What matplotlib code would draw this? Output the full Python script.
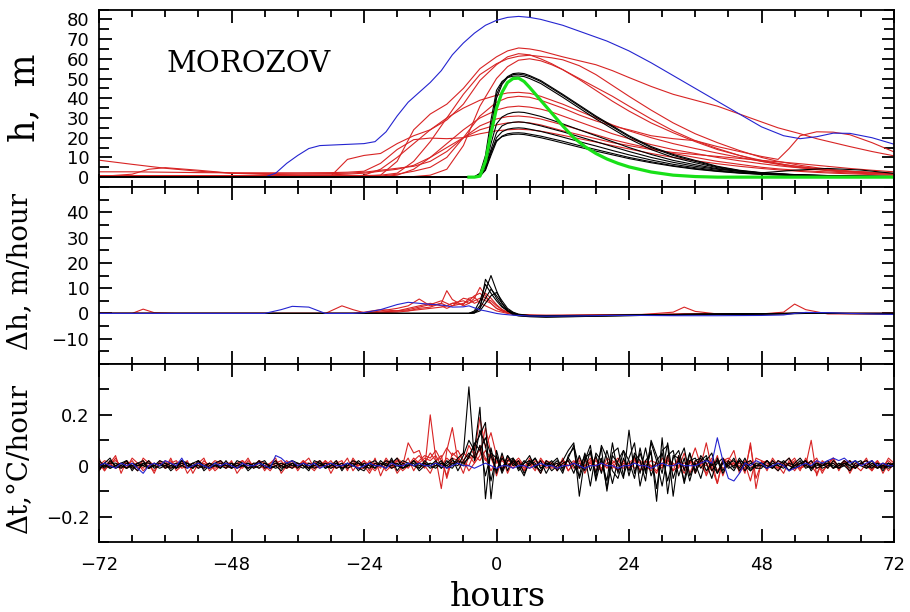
import numpy as np
import matplotlib
matplotlib.use("Agg")
import matplotlib.pyplot as plt
from matplotlib.ticker import MultipleLocator, FixedLocator, FuncFormatter

# ---------------- top panel: h, m ----------------
t_black = [-72, -6, -4, -3, -2, -1, 0, 1, 2, 3, 4, 5, 6, 8, 10, 12, 15, 18, 21, 24,
           28, 32, 36, 40, 44, 48, 54, 60, 66, 72]
h_black = [
    [0, 0, 0, 1, 8, 25, 42, 48, 51, 52.5, 52.8, 52.5, 51.5, 49, 45.5, 42, 36.5, 31, 26, 21,
     15.5, 11.5, 8.5, 5.5, 3.5, 2.3, 1.3, 0.8, 0.5, 0.3],
    [0, 0, 0, 0.5, 6, 22, 40, 47, 50.5, 52, 52.2, 51.8, 51, 48.5, 45, 41.5, 36, 30.5, 25.5, 20.5,
     15, 11, 8, 5.2, 3.3, 2.1, 1.2, 0.7, 0.4, 0.3],
    [0, 0, 0.2, 2, 11, 29, 44, 48.5, 50.5, 51.2, 51.3, 51, 50, 47.5, 44, 40.5, 35, 29.5, 24.5, 19.5,
     14, 10, 7.3, 4.8, 3, 2, 1.1, 0.7, 0.4, 0.3],
    [0, 0, 0, 1, 6, 17, 27, 30.5, 32, 32.8, 33, 32.8, 32.2, 30.8, 29, 27, 24, 21, 18, 15,
     11.5, 8.5, 6.3, 4.3, 3, 2, 1.2, 0.8, 0.5, 0.3],
    [0, 0, 0, 1, 5, 14, 22.5, 26, 27.3, 27.8, 28, 27.8, 27.3, 26, 24.5, 23, 20.5, 18, 15.5, 13,
     10, 7.5, 5.5, 4, 3, 2.2, 3.5, 4.4, 3.6, 1.9],
    [0, 0, 0, 0.5, 4, 12, 20, 23, 24.3, 24.8, 25, 24.8, 24.3, 23.2, 21.8, 20.3, 18, 15.8, 13.5, 11.3,
     8.7, 6.5, 4.8, 3.5, 2.5, 1.7, 1, 0.6, 0.4, 0.3],
    [0, 0, 0, 0.5, 3.5, 11, 18, 20.8, 22, 22.4, 22.5, 22.3, 21.8, 20.8, 19.5, 18.2, 16, 14, 12, 10,
     7.8, 5.8, 4.3, 3.1, 2.2, 1.5, 0.9, 0.6, 0.4, 0.2],
    [0, 0, 0.2, 1.5, 6, 13, 18.5, 20.5, 21.3, 21.7, 21.8, 21.6, 21.1, 20, 18.7, 17.3, 15.2, 13.2, 11.3, 9.4,
     7.3, 5.5, 4, 2.9, 2, 1.4, 0.8, 0.5, 0.3, 0.2],
]

t_red = [-72, -66, -63, -60, -54, -48, -42, -36, -30, -27, -24, -21, -18, -15, -12, -9, -6, -3,
         0, 2, 4, 6, 8, 10, 12, 15, 18, 21, 24, 28, 32, 36, 40, 44, 48, 51, 53, 55, 58, 61, 64, 68, 72]
h_red = [
    [0.5, 0.5, 0.5, 0.5, 0.5, 0.5, 0.5, 0.5, 0.5, 0.5, 0.5, 1, 8, 24, 32, 37, 45, 55,
     61, 64, 65.5, 65, 64, 62.5, 61, 59, 57, 54, 50.5, 46, 42, 39, 36, 32, 28, 25, 23.5, 22, 19.5, 17.5, 15.5, 13, 10.8],
    [0.3, 0.3, 0.3, 0.3, 0.3, 0.3, 0.3, 0.3, 0.5, 9, 11, 12, 17, 21, 24, 29, 37, 49,
     57, 61, 62.6, 62, 60, 57.5, 54.5, 50, 45.5, 41, 36, 29.5, 23.5, 18.5, 14.5, 11, 8, 6.5, 5.5, 4.8, 3.8, 3, 2.5, 2, 1.5],
    [0.8, 0.8, 0.8, 0.8, 0.8, 0.8, 0.8, 0.8, 0.8, 0.8, 0.8, 1, 2, 8, 18, 30, 42, 52,
     57.5, 60, 61.3, 61.8, 61.2, 60.5, 59.5, 56.5, 52, 46.5, 41, 34, 27.5, 22, 17.5, 13.5, 10, 8, 7, 6, 4.8, 3.8, 3, 2.3, 1.8],
    [0.3, 0.3, 0.3, 0.3, 0.3, 0.3, 0.3, 0.3, 0.3, 0.3, 0.3, 0.3, 0.3, 0.3, 1, 4, 16, 36,
     50, 56, 59.3, 60, 59, 57, 54.5, 49.5, 44, 38.5, 33.5, 27.5, 22.5, 18, 14, 11, 8.5, 7, 6, 5.2, 4.2, 3.4, 2.8, 2.2, 1.7],
    [0.2, 0.2, 0.2, 0.2, 0.2, 0.2, 0.2, 0.2, 0.2, 0.2, 1, 4, 10, 17, 24, 30, 35, 39,
     41.5, 42.7, 43, 42.5, 41, 39, 37, 33.5, 30, 26.5, 23.5, 20, 17, 14.5, 12.2, 10, 8, 6.8, 6, 5.3, 4.4, 3.6, 3, 2.4, 1.9],
    [0.5, 0.5, 0.5, 0.5, 0.5, 0.5, 0.5, 0.5, 0.5, 0.5, 0.5, 0.5, 1.5, 3, 5, 10, 20, 31,
     38, 40.3, 41, 40.5, 39, 37, 35, 31.5, 28.5, 26, 24, 21, 19.5, 18.5, 15.5, 13, 10.5, 9, 14.5, 21, 23, 22.8, 21.5, 17.5, 12.8],
    [8.6, 6.5, 5.5, 4.5, 3, 2, 1.8, 1.7, 1.8, 2, 2.5, 3.5, 4.5, 5.5, 8, 13, 20, 26,
     29.5, 30.7, 31, 30.5, 29.5, 28, 26.5, 24, 21.5, 19, 17, 14.5, 12, 10, 8, 6.5, 5, 4.2, 3.8, 3.4, 2.9, 2.5, 2.1, 1.7, 1.4],
    [0.3, 1.5, 4, 4.8, 3.5, 2, 1.4, 1.2, 1.2, 1.5, 2, 3, 4, 6, 10, 15, 20, 24,
     26.5, 27.5, 28, 27.5, 26.5, 25, 23.5, 21.5, 19.5, 17.5, 16, 14, 12.5, 11.5, 10.5, 9.5, 8.5, 7.8, 7.3, 6.8, 6, 5.2, 4.4, 3.5, 2.7],
    [2.7, 2.7, 2.6, 2.5, 2.3, 2.2, 2.2, 2.2, 2.3, 2.5, 3, 7, 14, 19, 19.8, 19.5, 20, 22,
     23.5, 24, 24.3, 24, 23.3, 22.3, 21.2, 19.5, 17.8, 16, 14.3, 12, 10, 8.3, 6.8, 5.5, 4.4, 3.7, 3.3, 2.9, 2.4, 2, 1.7, 1.3, 1],
    [0.2, 0.2, 0.2, 0.2, 0.2, 0.2, 0.2, 0.2, 0.2, 0.2, 0.2, 0.2, 1, 4, 10, 17, 24, 30,
     34, 35.5, 36, 35.5, 34.5, 33, 31, 28, 25, 22, 19.5, 16.5, 14, 12, 10, 8.3, 6.8, 5.8, 5.2, 4.7, 4, 3.4, 2.9, 2.3, 1.8],
]

t_blue = [-72, -42, -40, -38, -36, -34, -32, -28, -24, -22, -20, -18, -16, -14, -12, -10, -8, -6, -4, -2,
          0, 2, 4, 6, 8, 12, 16, 20, 24, 28, 32, 36, 40, 44, 48, 52, 55, 58, 61, 64, 68, 72]
h_blue = [0, 0, 2, 7, 11, 14.5, 16, 16.5, 17, 18, 23, 31, 38, 43, 48, 54, 62, 68, 73, 77,
          79.5, 81, 81.5, 81, 80, 77, 73, 69, 64, 58, 51.5, 45, 38.5, 32, 25.5, 21, 19.5, 20.5, 22.3, 22.2, 20, 16.7]

t_green = [-5, -4, -3, -2, -1, 0, 1, 2, 3, 4, 5, 6, 8, 10, 12, 14, 16, 18, 20, 22, 24, 28, 32, 36, 40, 72]
h_green = [0, 0, 0.5, 8, 22, 35, 43, 48, 50, 50.2, 48.5, 45.5, 39, 32.5, 26, 20, 15.5, 12, 9.2, 7, 5.2,
           2.6, 1, 0.3, 0, 0]

# ---------------- middle panel: dh, m/hour ----------------
t_dh = [-72, -66, -64, -62, -58, -48, -42, -39, -37, -34, -31, -29, -28, -26, -24, -21, -18, -16, -14, -12,
        -10, -9, -8, -6, -5, -4, -3, -2, -1, 0, 1, 2, 3, 4, 6, 9, 14, 20, 26, 32,
        34, 36, 40, 48, 52, 54, 56, 60, 64, 72]
dh_black = [
    [0, 0, 0, 0, 0, 0, 0, 0, 0, 0, 0, 0, 0, 0, 0, 0, 0, 0, 0, 0, 0, 0, 0, 0, 0,
     0.5, 3, 9, 15, 9, 4, 1, -0.5, -1, -1.3, -1.5, -1.3, -1, -0.8, -0.6, -0.5, -0.5, -0.4, -0.2, -0.1, -0.1, 0, 0, 0, 0],
    [0, 0, 0, 0, 0, 0, 0, 0, 0, 0, 0, 0, 0, 0, 0, 0, 0, 0, 0, 0, 0, 0, 0, 0, 0,
     0.3, 2, 13.5, 10, 6, 3, 1, 0, -0.8, -1.2, -1.3, -1.2, -1, -0.8, -0.6, -0.5, -0.4, -0.3, -0.2, -0.1, 0, 0, 0, 0, 0],
    [0, 0, 0, 0, 0, 0, 0, 0, 0, 0, 0, 0, 0, 0, 0, 0, 0, 0, 0, 0, 0, 0, 0, 0, 0,
     1, 5, 11.5, 8, 5, 2.5, 1, 0, -0.7, -1.1, -1.3, -1.1, -0.9, -0.7, -0.5, -0.4, -0.4, -0.3, -0.2, -0.1, 0, 0, 0, 0, 0],
    [0, 0, 0, 0, 0, 0, 0, 0, 0, 0, 0, 0, 0, 0, 0, 0, 0, 0, 0, 0, 0, 0, 0, 0, 0,
     0.2, 2, 6, 9.6, 7, 4, 1.5, 0.3, -0.5, -0.9, -1, -0.9, -0.8, -0.6, -0.5, -0.4, -0.3, -0.3, -0.1, 0, 0.2, 0.2, 0.1, -0.1, -0.2],
    [0, 0, 0, 0, 0, 0, 0, 0, 0, 0, 0, 0, 0, 0, 0, 0, 0, 0, 0, 0, 0, 0, 0, 0, 0,
     0.2, 1, 4, 7, 8.3, 5, 2, 0.5, -0.3, -0.8, -0.9, -0.8, -0.7, -0.5, -0.4, -0.3, -0.3, -0.2, -0.1, 0, 0, 0, 0, 0, 0],
]
dh_red = [
    [0, 0, 1.7, 0.3, 0, 0, 0, 0, 0, 0, 0, 2, 3, 1.5, 0.3, 0.5, 1, 1, 2, 2.5,
     4, 9, 5.5, 3, 4, 5, 6, 5, 4, 2, 1, 0.3, -0.3, -0.6, -0.8, -0.9, -0.8, -0.7, -0.5, -0.4,
     -0.3, -0.3, -0.3, -0.2, -0.1, 0, 0, 0, 0, 0],
    [0, 0, 0, 0, 0, 0, 0, 0, 0, 0, 0, 0, 0, 0, 0, 1, 2, 3, 5.7, 3,
     4, 3, 4, 5, 4, 6, 10.3, 7, 4, 2, 1, 0.5, 0, -0.5, -0.8, -1, -1, -0.8, -0.6, -0.4,
     -0.3, -0.3, -0.2, -0.1, 0, 0, 0, 0, 0, 0],
    [0, 0, 0, 0, 0, 0, 0, 0, 0, 0, 0, 0, 0, 0, 0.5, 1.5, 1, 2, 3, 4,
     3, 2, 3, 4, 5, 7, 8, 6, 5, 3, 1.5, 0.5, 0, -0.5, -0.8, -1, -1, -0.8, -0.5, 0.5,
     2.5, 0.8, -0.2, -0.1, 0, 0, 0, 0, 0, 0],
    [0, 0, 0, 0, 0, 0, 0, 0, 0, 0, 0, 0, 0, 0, 0, 0.5, 1, 1.5, 2.5, 3.5,
     5, 4, 3, 6, 5.5, 4, 5, 8, 6, 3.5, 1.5, 0.5, 0, -0.4, -0.7, -0.8, -0.8, -0.6, -0.5, -0.3,
     -0.3, -0.2, -0.2, -0.2, 0.5, 3.7, 1.5, -0.2, -0.2, -0.3],
    [0, 0, 0, 0, 0, 0, 0, 0, 0, 0, 0, 0, 0, 0, 0, 0.3, 0.5, 1, 1.5, 2,
     2.5, 3, 4, 3.5, 6, 6.5, 4, 3, 2, 1, 0.5, 0, -0.3, -0.5, -0.6, -0.7, -0.6, -0.5, -0.4, -0.3,
     -0.2, -0.2, -0.1, -0.1, 0, 0, 0, 0, 0, 0],
]
dh_blue = [0, 0, 0, 0, 0, 0, 0, 1.5, 2.8, 2.5, 0, 0, 0, 0, 0.3, 1.5, 3.5, 4.4, 4, 3.6,
           3.3, 3, 2.5, 2.6, 3, 2.2, 1.4, 1, 0.5, 0, -0.3, -0.5, -0.7, -0.8, -1, -1.1, -1, -0.8, -0.8, -0.9,
           -0.9, -0.9, -0.9, -0.8, -0.6, 0, 0.4, 0.3, 0, -0.4]

# ---------------- bottom panel: dt, hundredths of degC/hour, hourly ----------------
t_dt = np.arange(-72, 73)
dt_black = [
    [1, -1, 2, 0, -1, 1, 0, -2, 1, 1, 0, -1,
     0, 1, -1, 2, 0, -1, 1, 0, -1, 1, 2, 0,
     -1, 0, 1, -1, 0, 2, -1, 0, 1, 0, -1, 1,
     0, -1, 1, 0, 2, -1, 0, 1, -1, 0, 1, -2,
     1, 0, -1, 1, 0, 2, 0, -1, 1, 0, -1, 2,
     0, 1, -1, 2, 0, 3, 5, 31, 2, 8, -4, 5,
     3, -2, 4, 1, -1, 2, 0, 3, -1, 1, -2, 0,
     2, 6, 9, -12, 3, 5, -3, 7, -10, 4, 1, -5,
     14, -3, 5, -2, 6, -14, 11, -11, 4, 3, -6, 5,
     -2, 4, 1, -5, 3, -2, 2, -1, 3, 0, -2, 1,
     1, -1, 2, 0, -1, 1, 0, 2, -1, 0, 1, -1,
     0, 1, -1, 0, 2, -1, 1, 0, -1, 1, 0, -1,
     0],
    [0, 1, -1, 0, 1, 2, -1, 0, 1, -1, 0, 1,
     -1, 0, 1, 0, -1, 1, 2, 0, -1, 0, 1, 0,
     1, -1, 0, 1, 0, -1, 1, 0, 2, -1, 0, 1,
     -1, 1, 0, -1, 0, 1, 0, 1, -1, 0, 2, 1,
     0, -1, 1, 0, 2, 1, 3, -1, 0, 1, -2, 0,
     1, 0, 2, -1, 1, 0, 4, 10, 6, 23, -13, 7,
     -3, 5, -2, 3, 0, -4, 2, 1, -3, 2, 0, 1,
     -3, 4, 7, -5, 2, 8, -6, 3, -9, 5, 7, -4,
     3, 9, -8, 2, 5, -9, 6, 8, -12, 4, -7, 2,
     3, -1, 2, 5, -3, 1, 0, -2, 2, 1, -1, 0,
     0, 2, -1, 1, 0, -2, 1, 3, 0, -1, 1, 0,
     1, -1, 0, 2, 0, -1, 1, 0, 2, -1, 0, 1,
     0],
    [-1, 0, 1, 1, 0, -1, 0, 1, 0, 2, -1, 0,
     1, 0, -1, 0, 1, 0, 0, -1, 1, 0, -1, 1,
     0, 1, 0, -1, 1, 1, 0, -1, 0, 1, 0, -1,
     1, 0, -1, 1, 0, 0, 1, -1, 0, 1, 0, 1,
     -1, 1, 0, 0, 1, -1, 0, 2, 1, 0, 1, 0,
     0, -1, 1, 0, 2, 1, 0, 4, 8, 12, 17, -13,
     6, -2, 4, 0, 2, -3, 1, 3, -1, 0, 2, -2,
     1, 2, -3, 4, -2, 6, -5, 8, 3, -7, 2, 6,
     -4, 5, 2, -6, 10, 4, -3, 9, -5, 2, 7, -4,
     1, -5, 3, 0, 2, -3, 1, 2, -1, 3, -2, 0,
     1, 0, -1, 2, 1, -2, 0, 1, 2, -1, 0, 1,
     -1, 2, 0, 1, -1, 0, 1, 2, 0, -1, 1, 0,
     1],
    [2, 0, -1, 0, 1, -1, 1, 0, 0, -1, 1, 0,
     0, -1, 0, 1, 0, 1, -1, 0, 1, 0, 0, -1,
     1, 0, 0, 1, -1, 0, 1, 0, -1, 0, 1, 0,
     0, 1, -1, 0, 1, 0, -1, 0, 1, -1, 0, 2,
     0, 1, -1, 2, 0, 0, 1, -1, 0, 2, 0, 1,
     -1, 0, 1, 0, -1, 2, 1, 3, 9, 6, 11, 4,
     -2, 3, 0, 2, -1, 1, 2, 0, -2, 1, 0, 2,
     -1, 3, 0, -4, 5, -2, 4, -3, 6, -2, -5, 3,
     -2, 4, -3, 7, -4, 2, 5, -6, 3, 6, -2, 5,
     -3, 2, 4, -2, 1, 3, -1, 0, 2, -2, 1, 0,
     0, -1, 1, 0, 2, 0, -1, 1, 0, 2, -1, 0,
     1, 0, -1, 1, 0, 2, 0, -1, 1, 0, -1, 0,
     1],
    [-2, 1, 3, -1, 0, 2, -2, 1, 2, -1, 0, 2,
     1, -2, 0, 2, 1, -1, 2, -2, 0, 1, -1, 2,
     -1, 2, 1, -2, 0, 1, 2, -1, 0, -2, 1, 2,
     1, 0, -2, 2, 1, -1, 0, 2, -2, 1, 0, -1,
     -2, 1, 2, 0, -1, 3, -2, 1, 0, 2, -1, 1,
     0, 2, -1, 1, 3, -2, 2, 5, 3, 14, 8, -6,
     4, -3, 2, 3, -2, 1, 4, -1, 2, -3, 1, 3,
     -2, 3, 8, -1, 4, -8, 5, 2, -6, 9, -3, 6,
     2, -5, 7, -3, 9, 2, -8, 4, 6, -4, 3, -6,
     2, 3, -2, 1, -3, 2, 0, 3, -2, 1, 2, -1,
     -1, 2, 0, -2, 1, 3, -1, 0, 2, -2, 1, 0,
     2, -1, 1, 0, -2, 1, 2, -1, 0, 1, -2, 1,
     0],
]
dt_red = [
    [-2, 1, 0, 3, -1, 0, 2, -1, 1, 0, -2, 1,
     0, 2, -1, 1, 0, -1, 2, 0, 1, -2, 0, 1,
     1, 0, -1, 2, 0, 1, -1, 0, 1, 2, -1, 0,
     -1, 2, 0, -2, 1, 0, 2, -1, 0, 3, -2, 1,
     0, -3, 1, 0, 2, -1, 1, -2, 0, 3, 1, -1,
     20, 3, -9, 6, 15, 2, -3, 4, 1, 8, 3, -2,
     2, -1, 3, 0, 1, -2, 1, 0, 2, -1, 0, 1,
     0, 2, -1, 1, 0, 3, -2, 1, 0, -1, 2, 0,
     1, -1, 0, 2, -1, 1, 0, 3, -2, 0, 1, 2,
     0, 3, -4, 1, 2, -1, 0, 1, -2, 2, 0, -1,
     1, 0, 2, -1, 0, 1, -2, 1, 0, 2, -1, 0,
     1, -1, 0, 2, 0, -1, 1, 0, 2, -1, 0, 1,
     0],
    [1, -2, 2, 0, 1, 1, -1, 0, 2, -1, 0, 1,
     -1, 0, 1, 2, -3, 0, 1, -1, 0, 2, 1, -1,
     0, 1, 2, -1, 0, 1, 0, -2, 1, 0, 2, 0,
     1, 0, -1, 1, 2, 0, -1, 1, 0, -1, 1, 0,
     2, 0, -2, 1, 0, -1, 2, 0, 9, 5, 6, 0,
     -3, 2, 4, -5, 3, 2, 1, 0, 5, 19, 7, 13,
     4, -2, 2, 1, 3, 0, -1, 2, 0, 1, -1, 0,
     2, -2, 1, 3, -1, 0, 2, -1, 1, 0, -2, 1,
     0, 2, 1, -1, 0, -2, 1, 2, 0, 1, -3, 2,
     1, 0, 9, -1, -7, 2, 3, 1, 0, -2, 8, -5,
     1, 2, 0, -1, 1, 0, 2, -1, 0, 1, 3, -2,
     0, 1, -1, 2, 0, -1, 1, 0, -2, 1, 0, 2,
     0],
    [0, 2, 1, -1, 0, -1, 3, 1, -2, 0, 1, 0,
     2, -1, 0, 1, 1, 0, -1, 2, 0, -1, 0, 1,
     -1, 0, 2, 0, 1, -1, 0, 1, 2, 0, -1, 1,
     0, 1, 1, 0, -1, 2, 0, -1, 1, 0, 2, -1,
     -1, 2, 0, 1, -2, 0, 3, 1, -1, 2, 4, 1,
     5, 2, 3, 7, 4, 6, 2, -2, 1, 4, 15, 5,
     -4, 3, 1, -1, 2, 0, 1, -2, 3, 0, 1, -1,
     1, 0, 2, -1, 0, 1, 3, -2, 1, 2, 0, -1,
     1, 3, -2, 0, 2, 1, -1, 4, 0, 2, -1, 1,
     7, 0, -3, 2, -7, 3, 1, 0, 2, -3, 9, -9,
     2, 1, 0, -2, 1, 3, 0, -1, 2, 0, -3, 1,
     -1, 2, 0, 1, -2, 0, 1, 2, -1, 0, 1, -2,
     1],
    [-1, 0, 1, 2, 0, -1, 0, 1, -1, 2, 0, 1,
     0, 1, 2, -1, 0, 1, 0, 1, -1, 0, 2, 0,
     1, -1, 0, 1, 0, 2, 1, -1, 0, 1, 0, -1,
     0, 2, -1, 1, 0, 1, 0, 2, -1, 0, 1, 0,
     1, 0, 1, -1, 3, 0, 2, 1, 0, 2, 1, 3,
     2, 4, 0, 3, 1, 2, 5, 3, 4, 6, 2, 5,
     1, 2, 0, 1, 2, -1, 1, 0, 2, 1, 0, -1,
     2, 0, 1, -1, 2, 1, 0, 2, -1, 1, 3, 0,
     -1, 1, 2, 0, -2, 1, 0, 2, 1, -1, 5, -3,
     2, 1, 0, 3, -2, 1, 2, 0, 1, -1, 2, 0,
     1, 0, -1, 2, 0, 1, 3, -1, 0, 10, -4, 2,
     0, 3, -1, 1, 2, 0, -2, 1, 0, 2, -3, 1,
     0],
    [3, -2, 1, 4, -3, 2, 0, -2, 3, 1, -3, 2,
     -1, 3, -2, 0, 2, -3, 1, 3, -2, 0, 2, -1,
     2, -3, 0, 3, -1, 2, -2, 1, 3, -3, 0, 2,
     -2, 1, 3, -1, 0, 2, -3, 1, 2, -2, 3, 0,
     2, -2, 3, -4, 1, 2, -3, 0, 3, -2, 2, 4,
     3, 6, 2, -4, 5, 3, 1, 8, 4, 2, 6, 3,
     -2, 4, -3, 2, 1, -2, 3, 0, -3, 2, 1, -2,
     3, -2, 1, 2, -3, 2, 0, -2, 3, 1, -2, 2,
     -1, 3, -2, 2, 0, -3, 3, 1, -2, 4, -1, 2,
     -3, 2, 1, -2, 4, -4, 2, 6, -3, 1, -6, 3,
     2, -2, 3, 0, -3, 2, 1, -2, 3, -1, 2, -3,
     1, 3, -2, 2, -3, 1, 0, 3, -2, 2, -1, 3,
     1],
]
dt_blue = [0, 1, 0, -1, 1, 0, 1, -1, -3, 0, 1, 0,
           2, 1, 0, 3, -1, 0, 1, 0, -1, 1, 0, 1,
           0, -1, 1, 0, 0, 1, 0, -1, 4, 3, 1, 2,
           0, 1, 0, 1, -1, 0, 1, 0, 0, 1, 0, -1,
           0, 1, 0, 0, -1, 1, 0, 0, 1, 0, 1, 0,
           0, 1, 0, -1, 0, 1, 0, 0, -1, 0, 1, 0,
           -1, 0, 0, -1, 0, 0, -1, 0, 1, 0, 0, -1,
           0, 0, 1, 0, -1, 0, 0, 1, 0, 0, -1, 0,
           0, 1, 0, 0, -1, 0, 1, 0, 0, 1, 0, 0,
           0, 1, 2, 1, 11, 2, -5, -6, -3, 1, 0, 2,
           1, -1, 0, 1, 0, -2, -1, 0, 1, 0, 2, 1,
           2, 3, 2, 3, 1, 2, 0, 1, 2, 0, 1, 0,
           0]

RED = "#d82424"
BLUE = "#2424d0"
GREEN = "#18e018"
LW = 0.8

plt.rcParams['font.family'] = ['DejaVu Sans']

fig = plt.figure(figsize=(9.1, 6.12), dpi=100)
left, width = 99 / 910, 795 / 910
ax1 = fig.add_axes([left, 1 - 187 / 612, width, 177.5 / 612])
ax2 = fig.add_axes([left, 1 - 364 / 612, width, 177 / 612])
ax3 = fig.add_axes([left, 1 - 542 / 612, width, 178 / 612])

# top
for v in h_red:
    ax1.plot(t_red, v, color=RED, lw=LW)
ax1.plot(t_blue, h_blue, color=BLUE, lw=LW)
for v in h_black:
    ax1.plot(t_black, v, color="black", lw=LW)
ax1.plot(t_green, h_green, color=GREEN, lw=2.3)
ax1.text(-59.7, 53.2, "MOROZOV", family="DejaVu Serif", fontsize=21, va="baseline")

# middle
for v in dh_red:
    ax2.plot(t_dh, v, color=RED, lw=LW)
for v in dh_black:
    ax2.plot(t_dh, v, color="black", lw=LW)
ax2.plot(t_dh, dh_blue, color=BLUE, lw=LW)

# bottom
for v in dt_red:
    ax3.plot(t_dt, np.array(v) / 100, color=RED, lw=LW)
for v in dt_black:
    ax3.plot(t_dt, np.array(v) / 100, color="black", lw=LW)
ax3.plot(t_dt, np.array(dt_blue) / 100, color=BLUE, lw=LW)


def minus(s):
    return s.replace("-", "\u2212")


for ax in (ax1, ax2, ax3):
    ax.set_xlim(-72, 72)
    ax.xaxis.set_major_locator(MultipleLocator(24))
    ax.xaxis.set_minor_locator(MultipleLocator(6))
    ax.tick_params(which="both", direction="in", top=True, right=True, width=1.3,
                   labelsize=13, pad=7)
    ax.tick_params(axis="x", which="major", length=9.5)
    ax.tick_params(axis="x", which="minor", length=5)
    ax.tick_params(axis="y", which="major", length=9)
    ax.tick_params(axis="y", which="minor", length=7)
    for s in ax.spines.values():
        s.set_linewidth(1.3)

ax1.set_ylim(-5, 85)
ax1.yaxis.set_major_locator(FixedLocator(list(range(0, 81, 10))))
ax1.yaxis.set_minor_locator(MultipleLocator(5))
ax2.set_ylim(-20, 50)
ax2.yaxis.set_major_locator(FixedLocator([-10, 0, 10, 20, 30, 40]))
ax2.yaxis.set_minor_locator(MultipleLocator(5))
ax3.set_ylim(-0.3, 0.4)
ax3.yaxis.set_major_locator(FixedLocator([-0.2, 0, 0.2]))
ax3.yaxis.set_minor_locator(MultipleLocator(0.1))

ax1.yaxis.set_major_formatter(FuncFormatter(lambda v, p: minus(f"{v:.0f}")))
ax2.yaxis.set_major_formatter(FuncFormatter(lambda v, p: minus(f"{v:.0f}")))
ax3.yaxis.set_major_formatter(FuncFormatter(lambda v, p: "0" if abs(v) < 1e-9 else minus(f"{v:.1f}")))
ax3.xaxis.set_major_formatter(FuncFormatter(lambda v, p: minus(f"{v:.0f}")))
ax1.tick_params(labelbottom=False)
ax2.tick_params(labelbottom=False)
ax3.tick_params(axis="x", pad=10)

fig.text(24 / 910, 1 - 98 / 612, "h,  m", family="DejaVu Serif", fontsize=25,
         rotation=90, ha="center", va="center")
fig.text(20 / 910, 1 - 272 / 612, "\u0394h, m/hour", family="DejaVu Serif", fontsize=20,
         rotation=90, ha="center", va="center")
fig.text(20 / 910, 1 - 458 / 612, "\u0394t,\u00b0C/hour", family="DejaVu Serif", fontsize=20,
         rotation=90, ha="center", va="center")
fig.text(498 / 910, 1 - 597 / 612, "hours", family="DejaVu Serif", fontsize=24,
         ha="center", va="center")

fig.savefig("out.png", dpi=100)
